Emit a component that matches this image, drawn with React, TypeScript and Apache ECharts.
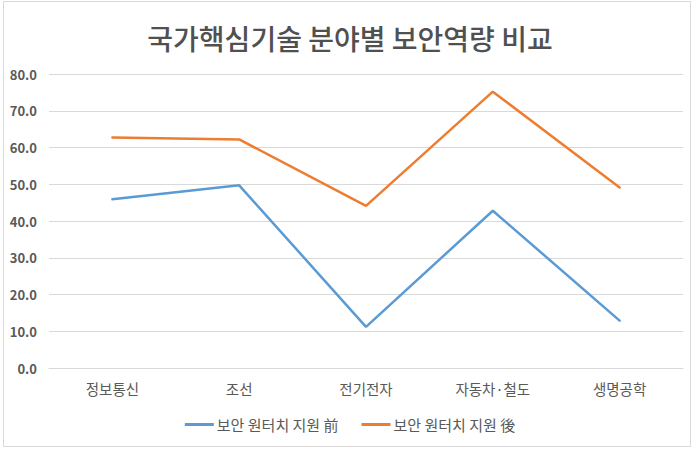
import React, { useEffect, useRef } from "react";
import * as echarts from "echarts";

const titleText = "국가핵심기술 분야별 보안역량 비교";
const categories = ["정보통신", "조선", "전기전자", "자동차·철도", "생명공학"];
const seriesNames = ["보안 원터치 지원 前", "보안 원터치 지원 後"];
const beforeValues = [45.9, 49.7, 11.2, 42.8, 12.9];
const afterValues = [62.7, 62.2, 44.1, 75.2, 49.1];
const yMin = 0;
const yMax = 80;
const yInterval = 10;

const FONT = "'Noto Sans CJK KR', 'Noto Sans', sans-serif";

export default function App() {
  const ref = useRef<HTMLDivElement>(null);
  useEffect(() => {
    if (!ref.current) return;
    const chart = echarts.init(ref.current, undefined, { renderer: "svg" });
    chart.setOption({
      animation: false,
      backgroundColor: "#ffffff",
      title: {
        text: titleText,
        left: "center",
        top: 19,
        textStyle: {
          fontFamily: FONT,
          fontSize: 28,
          fontWeight: 500,
          color: "#505050",
        },
      },
      graphic: [
        {
          type: "rect",
          shape: { x: 3.5, y: 1.5, width: 687, height: 445 },
          style: { fill: "none", stroke: "#d9d9d9", lineWidth: 1 },
          silent: true,
        },
      ],
      grid: { left: 49, right: 17, top: 74, bottom: 81, containLabel: false },
      xAxis: {
        type: "category",
        data: categories,
        boundaryGap: true,
        axisLine: { show: true, lineStyle: { color: "#d9d9d9", width: 1 } },
        axisTick: { show: false },
        axisLabel: {
          margin: 13,
          fontFamily: FONT,
          fontSize: 14.5,
          color: "#595959",
        },
      },
      yAxis: {
        type: "value",
        min: yMin,
        max: yMax,
        interval: yInterval,
        axisLine: { show: false },
        axisTick: { show: false },
        splitLine: { lineStyle: { color: "#d9d9d9", width: 1 } },
        axisLabel: {
          margin: 12,
          fontFamily: FONT,
          fontSize: 13,
          fontWeight: "bold",
          color: "#595959",
          formatter: (v: number) => v.toFixed(1),
        },
      },
      legend: {
        bottom: 12,
        left: "center",
        icon: "rect",
        itemWidth: 29,
        itemHeight: 3,
        itemGap: 23,
        textStyle: { fontFamily: FONT, fontSize: 15, color: "#595959", padding: [0, 0, 0, -2] },
        data: seriesNames,
      },
      series: [
        {
          name: seriesNames[0],
          type: "line",
          data: beforeValues,
          symbol: "none",
          color: "#5B9BD5",
          lineStyle: { width: 2.5, color: "#5B9BD5", cap: "round" },
        },
        {
          name: seriesNames[1],
          type: "line",
          data: afterValues,
          symbol: "none",
          color: "#ED7D31",
          lineStyle: { width: 2.5, color: "#ED7D31", cap: "round" },
        },
      ],
    });
    return () => chart.dispose();
  }, []);
  return (
    <div
      ref={ref}
      style={{ position: "fixed", left: 0, top: 0, width: 700, height: 449 }}
    />
  );
}
